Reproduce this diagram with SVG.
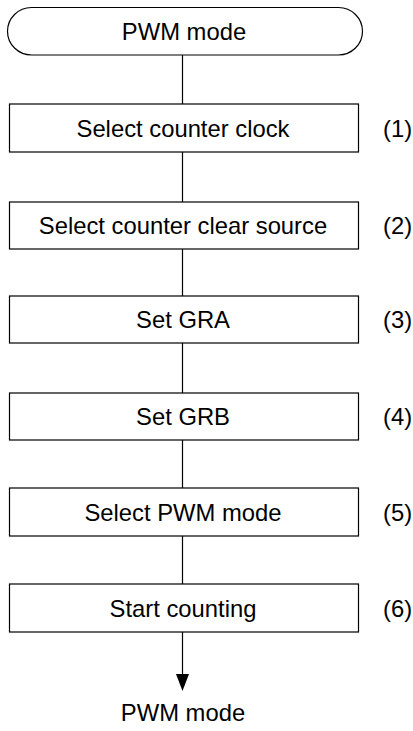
<svg xmlns="http://www.w3.org/2000/svg" width="413" height="731" viewBox="0 0 413 731">
<style>
.b{fill:#fff;stroke:#000;stroke-width:1.2}
.t{font-family:"Liberation Sans",Arial,sans-serif;font-size:23.8px;fill:#000;text-anchor:middle}
.n{font-family:"Liberation Sans",Arial,sans-serif;font-size:23.8px;fill:#000}
.c{stroke:#000;stroke-width:1.2;fill:none}
</style>
<rect width="413" height="731" fill="#fff"/>
<g id="connectors">
<line class="c" x1="182.5" y1="55" x2="182.5" y2="104"/>
<line class="c" x1="182.5" y1="152" x2="182.5" y2="202"/>
<line class="c" x1="182.5" y1="249" x2="182.5" y2="296"/>
<line class="c" x1="182.5" y1="343" x2="182.5" y2="393"/>
<line class="c" x1="182.5" y1="440" x2="182.5" y2="488"/>
<line class="c" x1="182.5" y1="536" x2="182.5" y2="584"/>
<line class="c" x1="182.5" y1="632" x2="182.5" y2="676"/>
<polygon points="176,674 189,674 182.5,691" fill="#000"/>
</g>
<g id="start">
<rect class="b" x="7.5" y="7.5" width="355" height="47.5" rx="24" ry="24"/>
<text class="t" x="184" y="39.5">PWM mode</text>
</g>
<g id="step1">
<rect class="b" x="9.5" y="104" width="349" height="48"/>
<text class="t" x="183" y="136.5">Select counter clock</text>
<text class="n" x="383" y="136.5">(1)</text>
</g>
<g id="step2">
<rect class="b" x="9.5" y="202" width="349" height="47"/>
<text class="t" x="183" y="233.5">Select counter clear source</text>
<text class="n" x="383" y="233.5">(2)</text>
</g>
<g id="step3">
<rect class="b" x="9.5" y="296" width="349" height="47"/>
<text class="t" x="183" y="328">Set GRA</text>
<text class="n" x="383" y="328">(3)</text>
</g>
<g id="step4">
<rect class="b" x="9.5" y="393" width="349" height="47"/>
<text class="t" x="183" y="425">Set GRB</text>
<text class="n" x="383" y="425">(4)</text>
</g>
<g id="step5">
<rect class="b" x="9.5" y="488" width="349" height="48"/>
<text class="t" x="183" y="520.5">Select PWM mode</text>
<text class="n" x="383" y="520.5">(5)</text>
</g>
<g id="step6">
<rect class="b" x="9.5" y="584" width="349" height="48"/>
<text class="t" x="183" y="616.5">Start counting</text>
<text class="n" x="383" y="616.5">(6)</text>
</g>
<g id="end">
<text class="t" x="183" y="721">PWM mode</text>
</g>
</svg>
